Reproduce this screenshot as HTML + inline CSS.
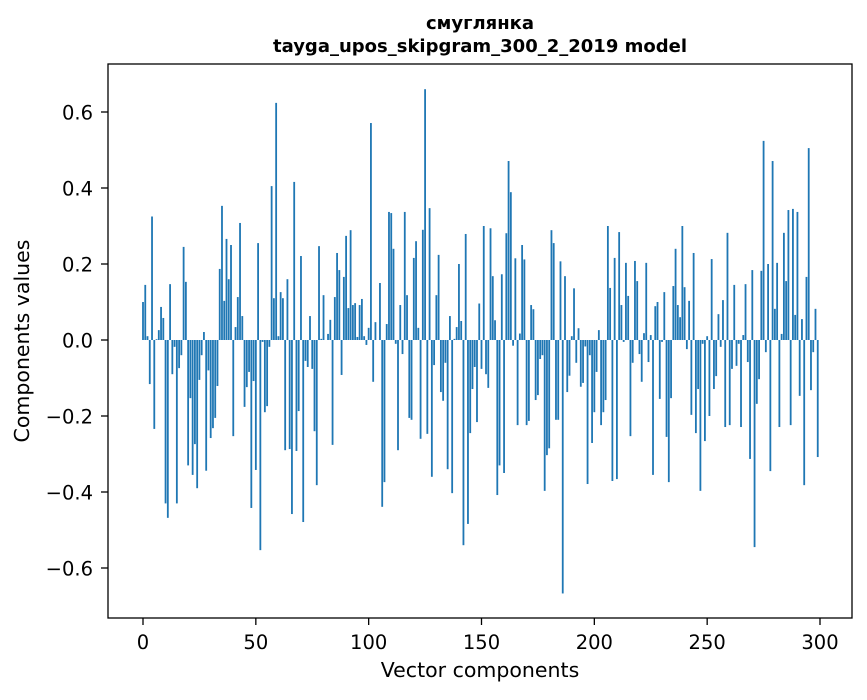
<!DOCTYPE html>
<html><head><meta charset="utf-8"><style>
body{margin:0;background:#fff;font-family:"DejaVu Sans","Liberation Sans",sans-serif}
svg text{font-family:"DejaVu Sans","Liberation Sans",sans-serif}
</style></head><body>
<svg id="chart" width="867" height="696" xmlns="http://www.w3.org/2000/svg">
<rect width="867" height="696" fill="#fff"/>
<text x="480" y="29" text-anchor="middle" font-size="18" font-weight="bold">смуглянка</text>
<text x="480" y="52" text-anchor="middle" font-size="18" font-weight="bold">tayga_upos_skipgram_300_2_2019 model</text>
<g id="bars"></g>
<g id="axes"></g>
<rect x="108" y="64" width="744" height="554" fill="none" stroke="#000" stroke-width="1.3"/>
<text x="480" y="677" text-anchor="middle" font-size="20.5">Vector components</text>
<text transform="translate(29,341) rotate(-90)" text-anchor="middle" font-size="20.5">Components values</text>
</svg>
<script>
const values = [0.10,0.145,0.01,-0.116,0.325,-0.234,0.002,0.026,0.087,0.058,-0.43,-0.468,0.147,-0.09,-0.018,-0.43,-0.074,-0.04,0.245,0.153,-0.33,-0.153,-0.355,-0.274,-0.39,-0.105,-0.04,0.021,-0.344,-0.08,-0.258,-0.232,-0.205,-0.121,0.187,0.353,0.103,0.266,0.16,0.25,-0.253,0.034,0.113,0.308,0.063,-0.176,-0.124,-0.084,-0.442,-0.108,
-0.342,0.255,-0.553,-0.005,-0.19,-0.174,-0.018,0.405,0.11,0.624,0.01,0.126,0.11,-0.29,0.16,-0.287,-0.458,0.416,-0.292,-0.187,0.221,-0.479,-0.055,-0.071,0.063,-0.076,-0.24,-0.382,0.247,0.003,0.118,0,0.016,0.053,-0.276,0.113,0.229,0.184,-0.092,0.166,0.274,0.084,0.289,0.092,0.097,0.008,0.092,
0.108,0.01,-0.013,0.032,0.571,-0.11,0.047,0,0.15,-0.439,-0.374,0.042,0.337,0.334,0.24,-0.01,-0.29,0.092,-0.037,0.337,0.118,-0.205,-0.21,0.216,0.26,0.032,-0.26,0.29,0.66,-0.247,0.347,-0.36,-0.066,0.118,0.224,-0.137,-0.16,-0.06,-0.34,0.063,-0.403,0.003,0.034,0.2,0.05,-0.54,0.279,-0.484,-0.245,-0.129,-0.071,-0.216,
0.096,-0.076,0.3,-0.09,-0.126,0.294,0.168,0.052,-0.408,-0.33,0.173,-0.35,0.281,0.471,0.389,-0.015,0.215,-0.224,0.017,0.25,0.212,-0.224,-0.213,0.092,0.081,-0.158,-0.145,-0.05,-0.04,-0.397,-0.303,-0.285,0.289,0.255,-0.21,-0.21,0.207,-0.667,0.168,-0.137,-0.094,0.01,0.136,-0.06,0.031,-0.123,-0.113,-0.017,-0.379,-0.04,
-0.271,-0.19,-0.084,0.026,-0.224,-0.19,-0.158,0.3,0.137,-0.371,0.216,-0.366,0.284,0.092,-0.005,0.203,0.116,-0.253,-0.06,0.208,0.155,-0.037,-0.11,0.018,0.203,-0.058,0.013,-0.355,0.089,0.1,-0.155,-0.005,0.126,-0.255,-0.374,-0.153,0.142,0.24,0.092,0.06,0.3,0.139,-0.024,0.103,-0.197,0.229,-0.245,-0.129,-0.397,
-0.01,-0.266,0.01,-0.2,0.213,-0.129,-0.095,0.068,-0.018,0.105,-0.229,0.282,-0.224,-0.076,0.145,-0.068,-0.01,-0.229,0.013,0.147,-0.058,-0.313,0.184,-0.545,-0.168,-0.103,0.182,0.524,-0.032,0.2,-0.345,0.471,0.082,0.203,-0.229,0.016,0.282,0.155,0.342,-0.224,0.345,0.066,0.337,-0.147,0.055,-0.382,0.166,0.505,-0.132,-0.032,0.082,-0.308];
const xTicks = [0,50,100,150,200,250,300];
const yTicks = [-0.6,-0.4,-0.2,0.0,0.2,0.4,0.6];
const yTickLabels = ["−0.6","−0.4","−0.2","0.0","0.2","0.4","0.6"];

const NS="http://www.w3.org/2000/svg";
const X0=143, X300=820, Y0=340, YPER=380;
const xs = v => X0 + (X300-X0)*v/300;
const ys = v => Y0 - v*YPER;
const bars=document.getElementById('bars');
const bw=(X300-X0)/300*0.8;
values.forEach((v,i)=>{
  const r=document.createElementNS(NS,'rect');
  
  
  r.setAttribute('x',xs(i)-bw/2);
  r.setAttribute('width',bw);
  r.setAttribute('y',Math.min(ys(v),ys(0)));
  r.setAttribute('height',Math.abs(ys(v)-ys(0)));
  r.setAttribute('fill','#1f77b4');
  bars.appendChild(r);
});
const axes=document.getElementById('axes');
xTicks.forEach(t=>{
  const l=document.createElementNS(NS,'line');
  
  
  l.setAttribute('x1',xs(t));l.setAttribute('x2',xs(t));
  l.setAttribute('y1',618);l.setAttribute('y2',625);
  l.setAttribute('stroke','#000');l.setAttribute('stroke-width','1.3');
  axes.appendChild(l);
  const tx=document.createElementNS(NS,'text');
  
  
  tx.setAttribute('x',xs(t));tx.setAttribute('y',649);
  tx.setAttribute('text-anchor','middle');tx.setAttribute('font-size','19.5');
  tx.textContent=String(t);
  axes.appendChild(tx);
});
yTicks.forEach((t,i)=>{
  const l=document.createElementNS(NS,'line');
  
  
  l.setAttribute('x1',101);l.setAttribute('x2',108);
  l.setAttribute('y1',ys(t));l.setAttribute('y2',ys(t));
  l.setAttribute('stroke','#000');l.setAttribute('stroke-width','1.3');
  axes.appendChild(l);
  const tx=document.createElementNS(NS,'text');
  
  
  tx.setAttribute('x',93);tx.setAttribute('y',ys(t)+7.5);
  tx.setAttribute('text-anchor','end');tx.setAttribute('font-size','19.5');
  tx.textContent=yTickLabels[i];
  axes.appendChild(tx);
});
</script>
</body></html>
